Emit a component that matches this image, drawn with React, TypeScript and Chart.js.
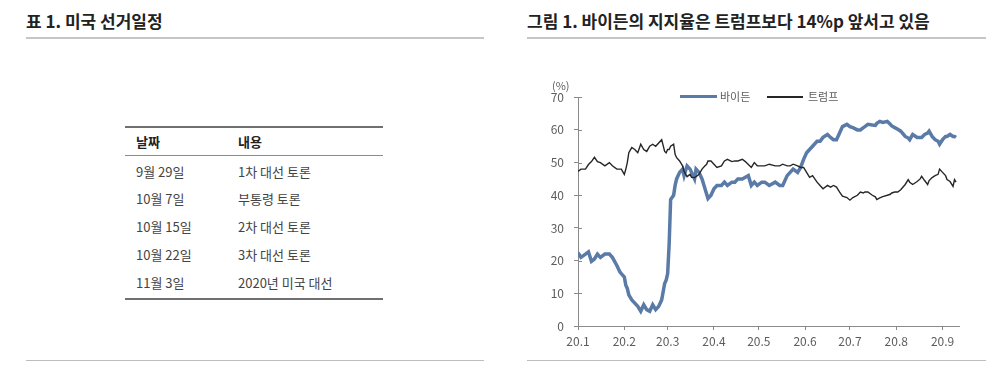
import React, { useEffect, useRef } from "react";
import { Chart, registerables } from "chart.js";

Chart.register(...registerables);

const FONT = "'Noto Sans CJK KR', 'Noto Sans', sans-serif";

// Left table
const tableHeaders = ["날짜", "내용"];
const scheduleDates = ["9월 29일", "10월 7일", "10월 15일", "10월 22일", "11월 3일"];
const scheduleEvents = ["1차 대선 토론", "부통령 토론", "2차 대선 토론", "3차 대선 토론", "2020년 미국 대선"];

// Chart data: day of year 2020 (Jan 1 = 0)
const dayOfYear = [
  0, 2, 5, 7, 9, 11, 13, 15, 18, 21, 23, 26, 28, 29, 31, 32, 33, 34, 36, 38,
  40, 42, 44, 46, 48, 50, 52, 54, 56, 58, 59, 60, 61, 62, 64, 65, 66, 68, 70, 71,
  73, 75, 76, 78, 79, 81, 83, 85, 86, 87, 89, 91, 93, 96, 98, 100, 103, 105, 107, 110,
  112, 114, 116, 118, 120, 123, 125, 128, 132, 135, 137, 140, 142, 144, 147, 149, 151, 153, 155, 157,
  160, 162, 164, 167, 169, 171, 173, 175, 177, 180, 182, 184, 187, 189, 191, 192, 194, 197, 199, 200,
  202, 204, 207, 209, 210, 212, 214, 216, 219, 221, 222, 224, 227, 229, 230, 232, 234, 235, 237, 239,
  241, 242, 244, 246, 247, 249, 251, 252, 253,
];
const biden = [
  22.4, 21, 22, 22.7, 19.8, 20.5, 22, 21, 22, 22, 21, 18.5, 16.6, 16, 15, 12.5, 11.5, 9.5, 8, 7,
  6, 4.5, 6.5, 5, 4.5, 6.5, 5, 6, 8, 13, 14, 16, 25, 38.7, 40, 43, 45, 47, 48, 46,
  49, 48, 47, 45, 48, 47, 45, 42, 40.5, 39, 40, 42, 43, 43, 44, 43, 44, 44, 45, 45,
  45.5, 46, 43, 44, 43, 44, 44, 43, 44, 43, 43, 46, 47, 48, 47, 48.5, 51, 53, 54, 55,
  56.5, 56.5, 57.7, 58.6, 57.7, 57, 57, 59, 61, 61.7, 61, 60.7, 60, 60, 60.7, 61, 61.7, 61.5, 61.4, 62,
  62.6, 62.3, 62.6, 61.7, 61.2, 60.7, 60.2, 59.6, 58, 57.5, 57, 58.6, 57.7, 57.7, 57.7, 58.6, 59, 59.6, 58, 57,
  56.5, 55.6, 57, 58, 58, 58.6, 58, 58, 57.7,
];
const trump = [
  47.3, 48, 48, 49.4, 50.3, 51.6, 50.3, 50, 49, 50, 49, 48, 48, 48, 46.4, 48, 50, 53, 54.6, 54,
  53, 55.6, 54, 53.4, 55, 55.6, 55, 56, 57, 53.4, 53, 54, 54, 55, 55.6, 52.5, 51.5, 50.5, 49, 47.3,
  45.7, 46.4, 45.5, 45.4, 45.7, 46.4, 48, 49, 49.4, 50.5, 50.5, 49.5, 48.5, 49, 50.5, 51, 50.3, 50.5, 50.5, 51,
  50.3, 49.4, 48.5, 50, 49, 49, 49, 49.5, 49, 49, 49.5, 49, 49, 49.5, 49, 48.5, 48.5, 47, 45.5, 46,
  44, 43, 42, 43, 42.5, 43, 42.5, 41, 39.7, 39.3, 38.5, 39.3, 40, 41, 40.7, 41, 41, 40, 39.5, 38.7,
  39.2, 39.6, 40, 40.3, 40.7, 41, 41, 41.7, 43.3, 44.8, 44, 43.3, 44.2, 45, 45.8, 44.5, 43.3, 44.5, 45.4, 46,
  46.4, 48, 47, 46, 44.8, 44.2, 42.7, 44.8, 44,
];
const seriesNames = ["바이든", "트럼프"];
const monthStartDays = [0, 31, 60, 91, 121, 152, 182, 213, 244];
const monthLabels = ["20.1", "20.2", "20.3", "20.4", "20.5", "20.6", "20.7", "20.8", "20.9"];

const BLUE = "#5a7aa7";
const BLACK = "#262626";
const AXIS = "#8a8a8a";
const TICK_TEXT = "#5c5c5c";

const innerTicks = {
  id: "innerTicks",
  afterDraw(chart: any) {
    const ys = chart.scales.y;
    const ctx = chart.ctx;
    ctx.save();
    ctx.strokeStyle = AXIS;
    ctx.lineWidth = 1;
    ys.ticks.forEach((t: any) => {
      const p = Math.round(ys.getPixelForValue(t.value)) + 0.5;
      ctx.beginPath();
      ctx.moveTo(ys.right, p);
      ctx.lineTo(ys.right + 4, p);
      ctx.stroke();
    });
    ctx.restore();
  },
};

function LineChart() {
  const ref = useRef<HTMLCanvasElement | null>(null);
  useEffect(() => {
    if (!ref.current) return;
    const chart = new Chart(ref.current, {
      type: "line",
      data: {
        datasets: [
          {
            label: seriesNames[0],
            data: dayOfYear.map((d, i) => ({ x: d, y: biden[i] })),
            borderColor: BLUE,
            borderWidth: 3.5,
            pointRadius: 0,
            tension: 0,
            order: 1,
          },
          {
            label: seriesNames[1],
            data: dayOfYear.map((d, i) => ({ x: d, y: trump[i] })),
            borderColor: BLACK,
            borderWidth: 1.4,
            pointRadius: 0,
            tension: 0,
            order: 0,
          },
        ],
      },
      options: {
        animation: false,
        responsive: false,
        maintainAspectRatio: false,
        layout: { padding: { top: 8, right: 11, left: 0, bottom: 0 } },
        plugins: { legend: { display: false }, tooltip: { enabled: false } },
        scales: {
          x: {
            type: "linear",
            min: 0,
            max: 255,
            afterBuildTicks: (s: any) => {
              s.ticks = monthStartDays.map((v) => ({ value: v }));
            },
            ticks: {
              autoSkip: false,
              maxRotation: 0,
              padding: 4,
              color: TICK_TEXT,
              font: { family: FONT, size: 12 },
              callback: (v: any) => {
                const i = monthStartDays.indexOf(Number(v));
                return i >= 0 ? monthLabels[i] : "";
              },
            },
            grid: { display: true, drawOnChartArea: false, drawTicks: true, tickLength: 4, color: AXIS },
            border: { display: true, color: AXIS, width: 1 },
            afterFit: (s: any) => {
              s.height = 29;
            },
          },
          y: {
            min: 0,
            max: 70,
            ticks: {
              stepSize: 10,
              padding: 10,
              color: TICK_TEXT,
              font: { family: FONT, size: 12 },
            },
            grid: { display: true, drawOnChartArea: false, drawTicks: true, tickLength: 4, color: AXIS },
            border: { display: true, color: AXIS, width: 1 },
            afterFit: (s: any) => {
              s.width = 48;
            },
          },
        },
      },
      plugins: [innerTicks],
    } as any);
    return () => chart.destroy();
  }, []);
  return (
    <canvas
      ref={ref}
      width={440}
      height={275}
      style={{ position: "absolute", left: 530, top: 80, width: 440, height: 275 }}
    />
  );
}

const abs = (o: React.CSSProperties): React.CSSProperties => ({ position: "absolute", ...o });

export default function App() {
  const rowCenters = [172, 199, 227, 255, 283];
  return (
    <div style={abs({ left: 0, top: 0, width: 1000, height: 385, background: "#fff", fontFamily: FONT, overflow: "hidden" })}>
      {/* Titles */}
      <div style={abs({ left: 26, top: 11, fontSize: 17, lineHeight: "20px", fontWeight: 700, color: "#222", whiteSpace: "nowrap" })}>
        표 1. 미국 선거일정
      </div>
      <div style={abs({ left: 527, top: 11, fontSize: 17, lineHeight: "20px", fontWeight: 700, color: "#222", whiteSpace: "nowrap" })}>
        그림 1. 바이든의 지지율은 트럼프보다 14%p 앞서고 있음
      </div>
      <div style={abs({ left: 26, top: 37, width: 458, height: 2, background: "#c6c6c6" })} />
      <div style={abs({ left: 527, top: 37, width: 459, height: 2, background: "#c6c6c6" })} />
      <div style={abs({ left: 26, top: 360, width: 458, height: 1, background: "#bdbdbd" })} />
      <div style={abs({ left: 527, top: 360, width: 459, height: 1, background: "#bdbdbd" })} />

      {/* Table */}
      <div style={abs({ left: 125, top: 126, width: 258, height: 2, background: "#707070" })} />
      <div style={abs({ left: 125, top: 155, width: 258, height: 1, background: "#8a8a8a" })} />
      <div style={abs({ left: 125, top: 298, width: 258, height: 2, background: "#707070" })} />
      <div style={abs({ left: 136, top: 134, fontSize: 13, lineHeight: "16px", fontWeight: 700, color: "#222", whiteSpace: "nowrap" })}>
        {tableHeaders[0]}
      </div>
      <div style={abs({ left: 238, top: 134, fontSize: 13, lineHeight: "16px", fontWeight: 700, color: "#222", whiteSpace: "nowrap" })}>
        {tableHeaders[1]}
      </div>
      {scheduleDates.map((d, i) => (
        <React.Fragment key={i}>
          <div style={abs({ left: 136, top: rowCenters[i] - 8, fontSize: 13, lineHeight: "16px", color: "#444", whiteSpace: "nowrap" })}>{d}</div>
          <div style={abs({ left: 238, top: rowCenters[i] - 8, fontSize: 13, lineHeight: "16px", color: "#444", whiteSpace: "nowrap" })}>
            {scheduleEvents[i]}
          </div>
        </React.Fragment>
      ))}

      {/* Chart */}
      <LineChart />
      <div style={abs({ left: 552, top: 78, fontSize: 11, lineHeight: "14px", color: TICK_TEXT })}>(%)</div>
      {/* Legend */}
      <div style={abs({ left: 680, top: 95, width: 37, height: 3, background: BLUE })} />
      <div style={abs({ left: 720, top: 89, fontSize: 11, lineHeight: "14px", color: TICK_TEXT, whiteSpace: "nowrap" })}>{seriesNames[0]}</div>
      <div style={abs({ left: 767, top: 96, width: 36, height: 1.5, background: BLACK })} />
      <div style={abs({ left: 808, top: 89, fontSize: 11, lineHeight: "14px", color: TICK_TEXT, whiteSpace: "nowrap" })}>{seriesNames[1]}</div>
    </div>
  );
}
